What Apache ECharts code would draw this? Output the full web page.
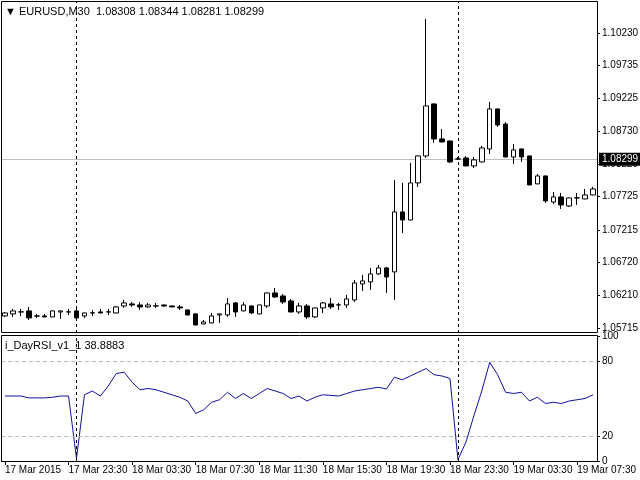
<!DOCTYPE html>
<html><head><meta charset="utf-8">
<script src="https://cdn.jsdelivr.net/npm/echarts@6/dist/echarts.min.js"></script>
<style>html,body{margin:0;padding:0;background:#fff}#c{width:640px;height:480px}</style>
</head><body><div id="c"></div>
<script>
const tickLabels = ["17 Mar 2015","17 Mar 23:30","18 Mar 03:30","18 Mar 07:30","18 Mar 11:30","18 Mar 15:30","18 Mar 19:30","18 Mar 23:30","19 Mar 03:30","19 Mar 07:30"];
const openV  = [1.05899,1.05930,1.05960,1.05976,1.05899,1.05899,1.05884,1.05960,1.05960,1.05976,1.05899,1.05945,1.05960,1.05960,1.05945,1.06052,1.06083,1.06067,1.06037,1.06052,1.06067,1.06052,1.06037,1.05991,1.05930,1.05777,1.05792,1.05914,1.05914,1.06098,1.05976,1.06052,1.05930,1.06052,1.06251,1.06205,1.06129,1.05960,1.06052,1.05884,1.06022,1.06083,1.06067,1.06067,1.06144,1.06389,1.06420,1.06542,1.06634,1.06573,1.07491,1.07368,1.07935,1.08348,1.09144,1.08608,1.08577,1.08302,1.08317,1.08195,1.08256,1.08455,1.09067,1.08837,1.08332,1.08455,1.08348,1.07920,1.08042,1.07643,1.07720,1.07582,1.07705,1.07690,1.07751];
const closeV = [1.05945,1.05976,1.05962,1.05869,1.05897,1.05884,1.05976,1.05976,1.05962,1.05869,1.05945,1.05947,1.05945,1.05962,1.06037,1.06098,1.06067,1.06037,1.06067,1.06054,1.06052,1.06037,1.06022,1.05914,1.05761,1.05807,1.05899,1.05930,1.06083,1.05960,1.06067,1.05945,1.06067,1.06251,1.06190,1.06113,1.05960,1.06052,1.05884,1.06022,1.06098,1.06037,1.06069,1.06159,1.06404,1.06435,1.06542,1.06634,1.06496,1.07491,1.07368,1.07935,1.08348,1.09113,1.08608,1.08562,1.08256,1.08300,1.08195,1.08287,1.08470,1.09067,1.08822,1.08332,1.08440,1.08332,1.07904,1.08042,1.07659,1.07720,1.07598,1.07705,1.07707,1.07751,1.07843];
const lowV   = [1.05884,1.05884,1.05899,1.05838,1.05869,1.05880,1.05880,1.05853,1.05914,1.05823,1.05869,1.05899,1.05940,1.05914,1.05940,1.06022,1.06037,1.05991,1.06022,1.06022,1.06037,1.06033,1.05991,1.05910,1.05755,1.05772,1.05788,1.05792,1.05884,1.05884,1.05970,1.05930,1.05925,1.06022,1.06175,1.06083,1.05955,1.05930,1.05853,1.05869,1.05945,1.06006,1.05991,1.06022,1.06113,1.06282,1.06297,1.06527,1.06251,1.06144,1.07169,1.07360,1.07873,1.08317,1.08547,1.08555,1.08241,1.08287,1.08190,1.08164,1.08250,1.08378,1.08792,1.08325,1.08225,1.08256,1.07900,1.07915,1.07628,1.07613,1.07537,1.07567,1.07598,1.07685,1.07745];
const highV  = [1.05960,1.06006,1.06006,1.06037,1.05930,1.05930,1.05980,1.05980,1.06006,1.06022,1.05950,1.05991,1.06006,1.06006,1.06052,1.06144,1.06113,1.06113,1.06098,1.06098,1.06070,1.06055,1.06067,1.05995,1.05935,1.05838,1.05945,1.05935,1.06175,1.06113,1.06113,1.06055,1.06070,1.06255,1.06328,1.06236,1.06159,1.06098,1.06083,1.06025,1.06113,1.06175,1.06098,1.06221,1.06450,1.06527,1.06634,1.06680,1.06649,1.07981,1.07935,1.08241,1.08355,1.10445,1.09150,1.08761,1.08582,1.08332,1.08348,1.08332,1.08501,1.09174,1.09072,1.08868,1.08531,1.08460,1.08352,1.08072,1.08046,1.07797,1.07782,1.07710,1.07782,1.07843,1.07873];
const rsiV   = [52,52,52,50.5,50.5,50.5,51,52,52,2,53,56,52,60,70,71,63,57,58,57,55,53,51,48,38,41,47,49,55,50,54,50,54,58,56,54,50,52,48,51,53,52.5,52,54,56,57,58,59,57.6,67,65,68,71,74,69,68,66,1,15,36,56,79,69,55,54,55,48,51,46,47,46,48,49,50,53];
const priceTicks = [1.10230,1.09735,1.09225,1.08730,1.08220,1.07725,1.07215,1.06720,1.06210,1.05715];
const rsiTicks = [0,20,80,100];
const bidPrice = 1.08299;
const header = "EURUSD,M30  1.08308 1.08344 1.08281 1.08299";
const rsiTitle = "i_DayRSI_v1_1 38.8883";
const daySep = [9, 57];

const cats = openV.map((_, i) => String(i));
const candles = openV.map((o, i) => [o, closeV[i], lowV[i], highV[i]]);
const F = 'Liberation Sans';
const sepLines = daySep.map(i => ({xAxis: String(i)}));
const dash = {lineStyle: {color: '#000', type: [3, 3], width: 1}, label: {show: false}};
const PMIN = 1.05638, PMAX = 1.10704;

const chart = echarts.init(document.getElementById('c'));
chart.setOption({
  animation: false,
  backgroundColor: '#fff',
  grid: [
    {left: 1, top: 2, width: 596, height: 331, show: false, containLabel: false, outerBoundsMode: 'none'},
    {left: 1, top: 336, width: 596, height: 125, show: false, containLabel: false, outerBoundsMode: 'none'}
  ],
  xAxis: [
    {type: 'category', gridIndex: 0, data: cats, boundaryGap: true,
     axisLine: {show: false}, axisTick: {show: false}, axisLabel: {show: false}, splitLine: {show: false}},
    {type: 'category', gridIndex: 1, data: cats, boundaryGap: true,
     axisLine: {show: false},
     axisTick: {show: true, interval: 7, alignWithLabel: true, length: 4, lineStyle: {color: '#000'}},
     axisLabel: {interval: 7, align: 'left', margin: 4, fontFamily: F, fontSize: 10, color: '#000', hideOverlap: false,
                 formatter: (v, i) => tickLabels[Math.round(i / 8)] || ''},
     splitLine: {show: false}}
  ],
  yAxis: [
    {type: 'value', gridIndex: 0, position: 'right', min: PMIN, max: PMAX,
     axisLine: {show: false},
     axisTick: {show: true, customValues: priceTicks, length: 3, lineStyle: {color: '#000'}},
     axisLabel: {customValues: priceTicks, formatter: v => v.toFixed(5), fontFamily: F, fontSize: 10, color: '#000', margin: 5},
     splitLine: {show: false}},
    {type: 'value', gridIndex: 1, position: 'right', min: 0, max: 100,
     axisLine: {show: false},
     axisTick: {show: true, customValues: rsiTicks, length: 3, lineStyle: {color: '#000'}},
     axisLabel: {customValues: rsiTicks, fontFamily: F, fontSize: 10, color: '#000', margin: 5, verticalAlign: 'middle',
                 padding: [0, 0, 5, 0], formatter: v => String(v)},
     splitLine: {show: false}},
    {type: 'value', gridIndex: 0, position: 'right', min: PMIN, max: PMAX,
     axisLine: {show: false}, axisTick: {show: false}, splitLine: {show: false},
     axisLabel: {customValues: [bidPrice], formatter: v => v.toFixed(5), fontFamily: F, fontSize: 10,
                 color: '#fff', backgroundColor: '#000', padding: [2, 3, 1, 3], margin: 2}}
  ],
  series: [
    {type: 'candlestick', xAxisIndex: 0, yAxisIndex: 0, data: candles, barWidth: 5,
     itemStyle: {color: '#fff', color0: '#000', borderColor: '#000', borderColor0: '#000', borderWidth: 1},
     markLine: {symbol: 'none', silent: true, animation: false,
       data: sepLines.map(d => Object.assign({}, d, dash))}},
    {type: 'line', xAxisIndex: 0, yAxisIndex: 2, data: [], symbol: 'none',
     markLine: {symbol: 'none', silent: true, animation: false, z: 1,
       data: [[{coord: ['0', bidPrice], x: 2}, {coord: ['74', bidPrice], x: 597}]],
       lineStyle: {color: '#c0c0c0', type: 'solid', width: 1}, label: {show: false}}},
    {type: 'line', xAxisIndex: 1, yAxisIndex: 1, data: rsiV, symbol: 'none',
     lineStyle: {color: '#1010a0', width: 1},
     markLine: {symbol: 'none', silent: true, animation: false,
       data: [
         {yAxis: 80, lineStyle: {color: '#bbb', type: [4, 3], width: 1}, label: {show: false}},
         {yAxis: 20, lineStyle: {color: '#bbb', type: [4, 3], width: 1}, label: {show: false}},
         ...sepLines.map(d => Object.assign({}, d, dash))
       ]}}
  ],
  graphic: [
    {type: 'rect', shape: {x: 1.5, y: 1.5, width: 596, height: 331}, style: {fill: 'none', stroke: '#000', lineWidth: 1}, z: 100},
    {type: 'rect', shape: {x: 1.5, y: 335.5, width: 596, height: 126}, style: {fill: 'none', stroke: '#000', lineWidth: 1}, z: 100},
    {type: 'text', left: 5, top: 6, style: {text: '▼ ' + header, font: '11px Liberation Sans', fill: '#000'}, z: 100},
    {type: 'text', left: 5, top: 340, style: {text: rsiTitle, font: '11px Liberation Sans', fill: '#000'}, z: 100}
  ]
});
</script></body></html>
